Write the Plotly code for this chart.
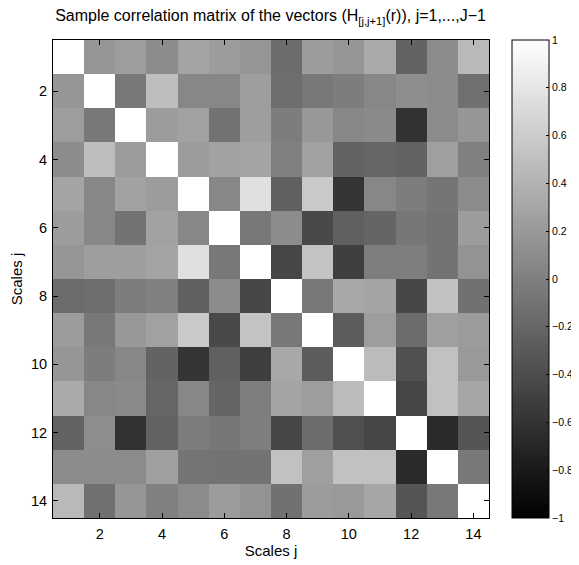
import plotly.graph_objects as go

scales = list(range(1, 15))

row1 = [1.00, 0.18, 0.23, 0.10, 0.29, 0.22, 0.18, -0.15, 0.22, 0.18, 0.33, -0.22, 0.10, 0.45]
row2 = [0.18, 1.00, -0.06, 0.49, 0.06, 0.06, 0.24, -0.14, -0.06, -0.02, 0.06, 0.11, 0.10, -0.12]
row3 = [0.23, -0.06, 1.00, 0.22, 0.27, -0.10, 0.24, -0.02, 0.19, 0.06, 0.08, -0.61, 0.09, 0.18]
row4 = [0.10, 0.49, 0.22, 1.00, 0.22, 0.27, 0.29, 0.00, 0.26, -0.22, -0.20, -0.22, 0.25, 0.00]
row5 = [0.29, 0.06, 0.27, 0.22, 1.00, 0.06, 0.76, -0.25, 0.58, -0.59, 0.06, -0.02, -0.08, 0.09]
row6 = [0.22, 0.06, -0.10, 0.27, 0.06, 1.00, -0.06, 0.10, -0.43, -0.25, -0.21, -0.07, -0.10, 0.22]
row7 = [0.18, 0.24, 0.24, 0.29, 0.76, -0.06, 1.00, -0.45, 0.53, -0.51, -0.01, -0.01, -0.10, 0.15]
row8 = [-0.15, -0.14, -0.02, 0.00, -0.25, 0.10, -0.45, 1.00, -0.06, 0.32, 0.29, -0.44, 0.51, -0.11]
row9 = [0.22, -0.06, 0.19, 0.26, 0.58, -0.43, 0.53, -0.06, 1.00, -0.28, 0.23, -0.15, 0.25, 0.22]
row10 = [0.18, -0.02, 0.06, -0.22, -0.59, -0.25, -0.51, 0.32, -0.28, 1.00, 0.47, -0.37, 0.51, 0.20]
row11 = [0.33, 0.06, 0.08, -0.20, 0.06, -0.21, -0.01, 0.29, 0.23, 0.47, 1.00, -0.45, 0.51, 0.30]
row12 = [-0.22, 0.11, -0.61, -0.22, -0.02, -0.07, -0.01, -0.44, -0.15, -0.37, -0.45, 1.00, -0.67, -0.33]
row13 = [0.10, 0.10, 0.09, 0.25, -0.08, -0.10, -0.10, 0.51, 0.25, 0.51, 0.51, -0.67, 1.00, -0.06]
row14 = [0.45, -0.12, 0.18, 0.00, 0.09, 0.22, 0.15, -0.11, 0.22, 0.20, 0.30, -0.33, -0.06, 1.00]

corr = [row1, row2, row3, row4, row5, row6, row7, row8, row9, row10, row11, row12, row13, row14]

axis_ticks = [2, 4, 6, 8, 10, 12, 14]
cbar_ticks = [-1, -0.8, -0.6, -0.4, -0.2, 0, 0.2, 0.4, 0.6, 0.8, 1]
cbar_labels = ["\u22121", "\u22120.8", "\u22120.6", "\u22120.4", "\u22120.2", "0",
               "0.2", "0.4", "0.6", "0.8", "1"]

font_family = "Liberation Sans, Arial, sans-serif"

fig = go.Figure(go.Heatmap(
    z=corr, x=scales, y=scales,
    colorscale=[[0, "black"], [1, "white"]],
    zmin=-1, zmax=1,
    colorbar=dict(
        x=1.052, xanchor="left", xref="paper",
        y=0.5, yanchor="middle", len=1.0, lenmode="fraction",
        thickness=37, thicknessmode="pixels",
        outlinecolor="black", outlinewidth=1,
        tickvals=cbar_ticks, ticktext=cbar_labels,
        ticks="inside", ticklen=3, tickcolor="black",
        tickfont=dict(family=font_family, size=10.5, color="black"),
        xpad=0, ypad=0,
    ),
))

# The page body has an 8px margin, so the figure is drawn 8px in from the top-left.
fig.update_layout(
    width=579, height=557,
    margin=dict(l=45, r=98, t=32, b=47, autoexpand=False),
    paper_bgcolor="white", plot_bgcolor="white",
    font=dict(family=font_family, color="black"),
    title=dict(
        text="Sample correlation matrix of the vectors (H<sub>[j,j+1]</sub>(r)), j=1,...,J\u22121",
        x=0.4534, xanchor="center", y=0.986, yanchor="middle",
        font=dict(family=font_family, size=16, color="black"),
    ),
    xaxis=dict(
        range=[0.5, 14.5], tickvals=axis_ticks, ticks="inside", ticklen=5,
        tickcolor="black", showline=True, linecolor="black", linewidth=1,
        mirror="ticks", showgrid=False, zeroline=False, ticklabelstandoff=3,
        tickfont=dict(size=14.5), title=dict(text="Scales j", font=dict(size=15), standoff=0),
    ),
    yaxis=dict(
        range=[14.5, 0.5], tickvals=axis_ticks, ticks="inside", ticklen=5,
        tickcolor="black", showline=True, linecolor="black", linewidth=1,
        mirror="ticks", showgrid=False, zeroline=False, ticklabelstandoff=2,
        tickfont=dict(size=14.5), title=dict(text="Scales j", font=dict(size=15), standoff=4),
    ),
)

fig.write_html("out.html")
